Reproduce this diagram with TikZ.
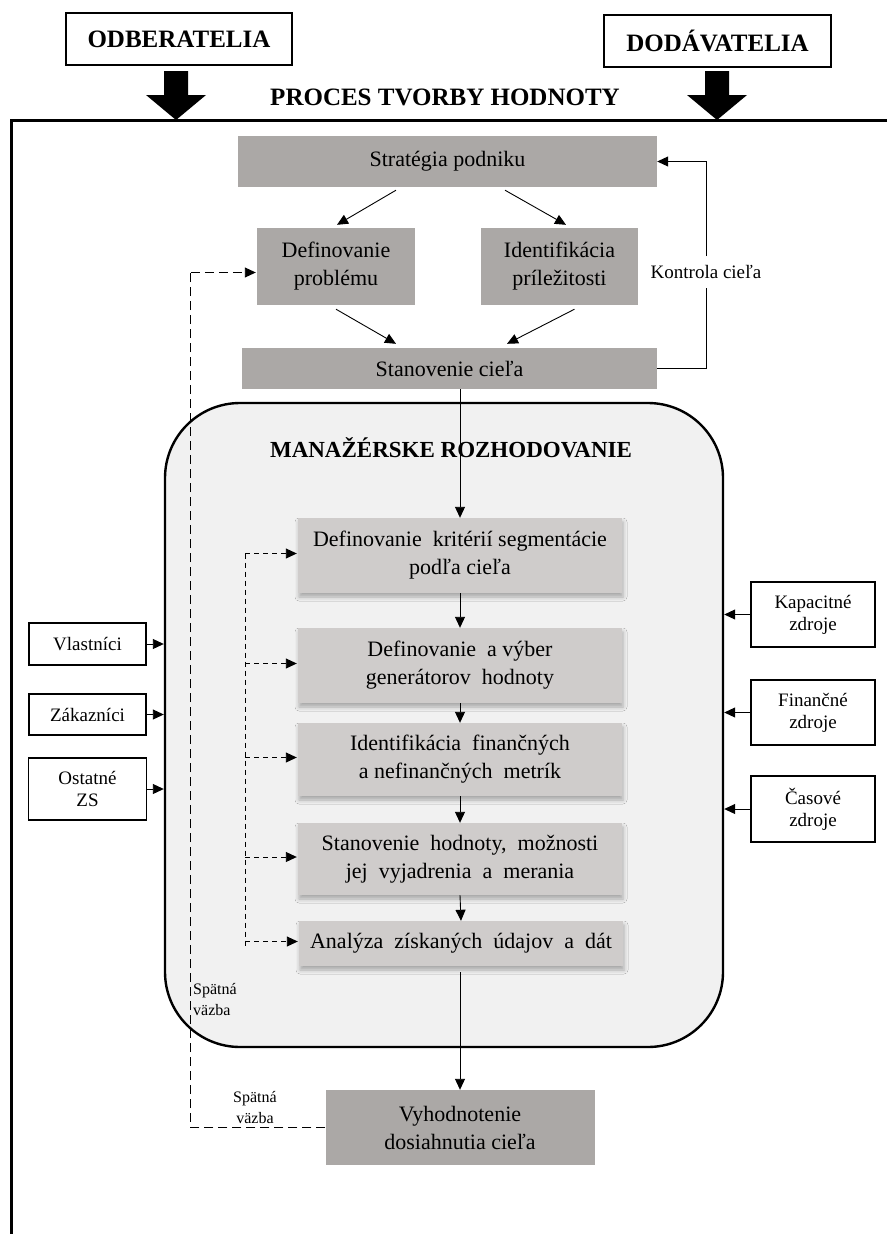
\documentclass[tikz,border=0pt]{standalone}
\usepackage{fontspec}
\setmainfont{Liberation Serif}
\usetikzlibrary{arrows.meta,calc,shadows.blur}

\definecolor{boxgray}{RGB}{171,168,166}
\definecolor{innergray}{RGB}{207,204,203}
\definecolor{panelgray}{RGB}{241,241,241}

\newcommand{\fsmain}{\fontsize{22}{28}\selectfont}
\newcommand{\fsside}{\fontsize{19}{22}\selectfont}
\newcommand{\fshead}{\fontsize{25}{28}\selectfont\bfseries}
\newcommand{\fstitle}{\fontsize{23}{26}\selectfont\bfseries}
\newcommand{\fssmall}{\fontsize{16}{21}\selectfont}
\newcommand{\fsctrl}{\fontsize{19}{22}\selectfont}

\begin{document}
\begin{tikzpicture}[x=1pt,y=-1pt,
  graybox/.style={fill=boxgray, inner sep=2pt, align=center, font=\fsmain},
  stepbox/.style={fill=innergray, inner sep=2pt, align=center, font=\fsmain,
    minimum width=324pt,
    blur shadow={shadow xshift=1pt, shadow yshift=-4pt, shadow blur radius=4pt, shadow opacity=30}},
  sidebox/.style={draw, line width=1.1pt, fill=white, align=center, font=\fsside, inner sep=2pt},
  headbox/.style={draw, line width=1.4pt, fill=white, font=\fshead, inner sep=2pt},
  arr/.style={-{Triangle[length=11pt,width=10pt]}, line width=0.9pt},
  longdash/.style={line width=0.9pt, dash pattern=on 9pt off 5pt},
  shortdash/.style={line width=0.9pt, dash pattern=on 5pt off 4pt},
  bigarrow/.pic={\fill (-12,0) -- (12,0) -- (12,24) -- (30,24) -- (0,49) -- (-30,24) -- (-12,24) -- cycle;}
]
\useasboundingbox (0,0) rectangle (887,1234);

% suppliers / customers and the process frame
\node[headbox, minimum width=226pt, minimum height=52pt] (odb) at (179,39) {ODBERATELIA};
\node[headbox, minimum width=227pt, minimum height=52pt] (dod) at (717.5,41) {DODÁVATELIA};
\pic at (176,71) {bigarrow};
\pic at (717,71) {bigarrow};
\node[font=\fshead] (proces) at (445,97) {PROCES TVORBY HODNOTY};
\draw[line width=3pt] (887,120) -- (11,120) -- (11,1236);

% management decision panel
\node[draw, line width=2.4pt, fill=panelgray, rounded corners=75pt,
      minimum width=558pt, minimum height=644pt] (mr) at (444,725) {};
\node[font=\fstitle] (mrtitle) at (451,448) {MANAŽÉRSKE ROZHODOVANIE};

% strategy part
\node[graybox, minimum width=419pt, minimum height=51pt] (strat) at (447.5,161.5) {Stratégia podniku};
\node[graybox, minimum width=158pt, minimum height=77pt] (defp) at (336,266.5) {Definovanie\\problému};
\node[graybox, minimum width=157pt, minimum height=77pt] (idp) at (559.5,266.5) {Identifikácia\\príležitosti};
\node[graybox, minimum width=415pt, minimum height=41pt] (stan) at (449.5,368.5) {Stanovenie cieľa};
\node[font=\fsctrl, fill=white, inner xsep=1pt, inner ysep=9pt] (kc) at (706,272) {Kontrola cieľa};

% decision steps
\node[stepbox, minimum height=75pt] (s1) at (460,555.5) {Definovanie\ \ kritérií segmentácie\\podľa cieľa};
\node[stepbox, minimum height=75pt] (s2) at (460,665.5) {Definovanie\ \ a výber\\generátorov\ \ hodnoty};
\node[stepbox, minimum height=73pt] (s3) at (460,759.5) {Identifikácia\ \ finančných\\a nefinančných\ \ metrík};
\node[stepbox, minimum height=72pt] (s4) at (460,859) {Stanovenie\ \ hodnoty,\ \ možnosti\\jej\ \ vyjadrenia\ \ a\ \ merania};
\node[stepbox, minimum height=45pt] (s5) at (461,943.5) {Analýza\ \ získaných\ \ údajov\ \ a\ \ dát};

\node[graybox, minimum width=269pt, minimum height=75pt] (vyh) at (460,1127.5) {Vyhodnotenie\\dosiahnutia cieľa};

% stakeholders and resources
\node[sidebox, minimum width=117pt, minimum height=42pt] (vl) at (87.5,644) {Vlastníci};
\node[sidebox, minimum width=117pt, minimum height=41pt] (zak) at (87.5,714.5) {Zákazníci};
\node[sidebox, minimum width=118pt, minimum height=62pt] (ost) at (87.5,789) {Ostatné\\ZS};
\node[sidebox, minimum width=124pt, minimum height=65pt] (kap) at (813,614.5) {Kapacitné\\zdroje};
\node[sidebox, minimum width=124pt, minimum height=65pt] (fin) at (813,712.5) {Finančné\\zdroje};
\node[sidebox, minimum width=124pt, minimum height=66pt] (cas) at (813,809) {Časové\\zdroje};

% feedback labels
\node[font=\fssmall, align=left, inner sep=0pt, anchor=west] (sv1) at (193,999.5) {Spätná\\väzba};
\node[font=\fssmall, align=center, inner sep=0pt] (sv2) at (255,1107.5) {Spätná\\väzba};

% strategy flow
\draw[arr] ([xshift=-51.5pt,yshift=-3pt]strat.south) -- ([xshift=1pt,yshift=3pt]defp.north);
\draw[arr] ([xshift=57.5pt,yshift=-3pt]strat.south) -- ([xshift=6.5pt,yshift=3pt]idp.north);
\draw[arr] ([yshift=-4pt]defp.south) -- ([xshift=-53.5pt,yshift=4pt]stan.north);
\draw[arr] ([xshift=15pt,yshift=-4pt]idp.south) -- ([xshift=57.5pt,yshift=4pt]stan.north);
\draw[line width=0.9pt] (stan.east) -| (kc.south);
\draw[arr] (kc.north) |- (strat.east);

% main vertical flow
\draw[arr] (s1.north |- stan.south) -- (s1.north);
\draw[arr] (s1.south) -- (s2.north);
\draw[arr] (s2.south) -- (s3.north);
\draw[arr] (s3.south) -- (s4.north);
\draw[arr] (s4.south) -- (s5.north);
\draw[arr] ([yshift=-6pt]vyh.north |- s5.south) -- (vyh.north);

% inputs from the sides
\draw[arr] (vl.east) -- (vl.east -| mr.west);
\draw[arr] (zak.east) -- (zak.east -| mr.west);
\draw[arr] (ost.east) -- (ost.east -| mr.west);
\draw[arr] (kap.west) -- (kap.west -| mr.east);
\draw[arr] (fin.west) -- (fin.west -| mr.east);
\draw[arr] (cas.west) -- (cas.west -| mr.east);

% feedback loops
\coordinate (fbx) at (191,0);
\coordinate (ibx) at (245,0);
\draw[longdash] (vyh.west) -| ($(defp.west)+(-66,6)$);
\draw[longdash, arr] ($(defp.west)+(-66,6)$) -- ($(defp.west)+(-1,6)$);
\draw[shortdash] ([yshift=2pt]ibx |- s1.west) -- ([yshift=-2pt]ibx |- s5.west);
\foreach \s in {s1,s2,s3,s4,s5}{
  \draw[shortdash, arr] ([yshift=2pt]ibx |- \s.west) -- ([xshift=-1pt,yshift=2pt]\s.west);
}
\end{tikzpicture}
\end{document}
